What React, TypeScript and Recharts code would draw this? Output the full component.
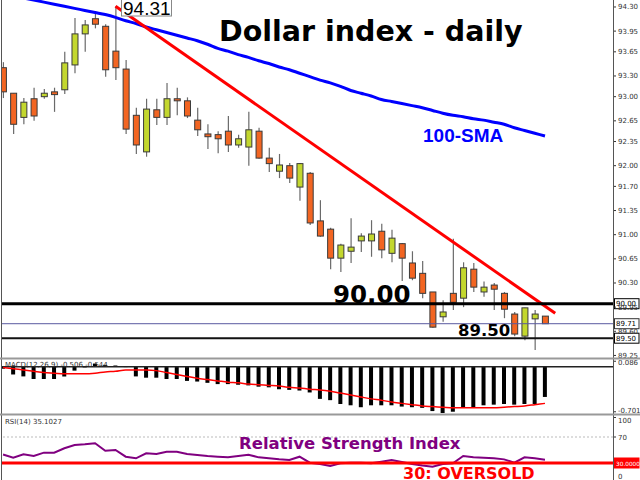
import React from "react";
import { ComposedChart, Bar, Line, XAxis, YAxis, ReferenceLine } from "recharts";

// daily candles, oldest first
const OPEN = [
  93.42, 93.05, 92.7, 92.97, 93.0, 93.07, 93.1, 93.46, 93.91, 94.13,
  94.02, 93.66, 93.4, 92.73, 92.2, 92.81, 92.7, 92.97, 92.94, 92.66,
  92.46, 92.45, 92.5, 92.3, 92.27, 92.5, 92.11, 91.92, 92.0, 91.69,
  91.89, 91.2, 91.08, 90.66, 90.76, 90.91, 90.91, 91.05, 90.73, 90.87,
  90.59, 90.44, 90.17, 89.81, 90.15, 90.08, 90.5, 90.17, 90.27, 90.15,
  89.85, 89.53, 89.78, 89.82,
];
const HIGH = [
  93.5, 93.05, 92.98, 93.13, 93.11, 93.13, 93.65, 94.14, 94.11, 94.21,
  94.05, 94.31, 93.53, 92.84, 92.97, 92.97, 93.2, 93.13, 92.99, 92.84,
  92.6, 92.5, 92.72, 92.45, 92.78, 92.55, 92.26, 92.17, 92.04, 92.04,
  91.91, 91.5, 91.1, 90.87, 91.24, 91.02, 91.21, 91.16, 91.07, 90.88,
  90.76, 90.62, 90.17, 90.05, 90.94, 90.6, 90.59, 90.32, 90.3, 90.17,
  89.88, 89.94, 89.91, 89.82,
];
const LOW = [
  92.98, 92.46, 92.6, 92.65, 92.97, 92.78, 93.04, 93.34, 93.65, 93.99,
  93.29, 93.24, 92.46, 92.17, 92.13, 92.59, 92.59, 92.73, 92.69, 92.43,
  92.24, 92.18, 92.2, 92.26, 92.0, 92.1, 91.91, 91.82, 91.75, 91.49,
  91.14, 90.97, 90.5, 90.46, 90.59, 90.75, 90.68, 90.66, 90.6, 90.33,
  90.34, 90.08, 89.65, 89.74, 89.91, 89.95, 90.17, 90.1, 89.91, 89.79,
  89.53, 89.47, 89.33, 89.71,
];
const CLOSE = [
  93.07, 92.6, 92.92, 92.72, 93.05, 93.03, 93.49, 93.91, 94.04, 94.05,
  93.39, 93.42, 92.53, 92.3, 92.82, 92.7, 92.97, 92.94, 92.72, 92.52,
  92.42, 92.39, 92.3, 92.39, 92.52, 92.11, 92.03, 92.01, 91.82, 92.03,
  91.17, 90.98, 90.66, 90.85, 90.82, 90.98, 91.01, 90.78, 90.95, 90.66,
  90.37, 90.15, 89.66, 89.88, 90.02, 90.52, 90.24, 90.24, 90.21, 89.92,
  89.56, 89.94, 89.85, 89.71,
];
const SMA100 = [
  94.49, 94.46, 94.43, 94.4, 94.37, 94.34, 94.31, 94.28, 94.25, 94.22,
  94.19, 94.15, 94.1, 94.06, 94.01, 93.97, 93.93, 93.89, 93.85, 93.81,
  93.76, 93.7, 93.66, 93.61, 93.57, 93.52, 93.48, 93.43, 93.39, 93.34,
  93.29, 93.24, 93.2, 93.15, 93.09, 93.05, 93.01, 92.96, 92.93, 92.9,
  92.87, 92.84, 92.8, 92.76, 92.73, 92.71, 92.68, 92.66, 92.63, 92.6,
  92.55, 92.51, 92.47, 92.43,
];
const MACD_HIST = [
  -0.03, -0.12, -0.15, -0.19, -0.19, -0.19, -0.15, -0.06, -0.01, 0.05,
  0.03, 0.02, -0.005, -0.15, -0.17, -0.17, -0.19, -0.19, -0.22, -0.23,
  -0.25, -0.27, -0.27, -0.28, -0.29, -0.31, -0.32, -0.35, -0.36, -0.37,
  -0.4, -0.5, -0.52, -0.58, -0.6, -0.63, -0.6, -0.6, -0.6, -0.62,
  -0.63, -0.64, -0.69, -0.72, -0.7, -0.64, -0.64, -0.6, -0.59, -0.58,
  -0.59, -0.58, -0.58, -0.47,
];
const MACD_SIGNAL = [
  -0.01, -0.03, -0.05, -0.07, -0.09, -0.1, -0.11, -0.11, -0.11, -0.1,
  -0.08, -0.07, -0.05, -0.05, -0.05, -0.06, -0.09, -0.12, -0.15, -0.18,
  -0.2, -0.22, -0.24, -0.25, -0.27, -0.28, -0.29, -0.3, -0.32, -0.33,
  -0.35, -0.36, -0.38, -0.41, -0.44, -0.47, -0.5, -0.52, -0.55, -0.57,
  -0.59, -0.61, -0.62, -0.63, -0.64, -0.64, -0.64, -0.64, -0.64, -0.63,
  -0.62, -0.61, -0.59, -0.57,
];
const RSI14 = [
  43, 38.2, 43.4, 40.8, 45.9, 45.9, 52.6, 57.7, 58.7, 60.3,
  48.9, 50, 39.7, 37.2, 44.9, 44, 47.4, 47.4, 43.8, 42.3,
  40.8, 39.7, 38.7, 40.8, 42.8, 38.7, 37.2, 35.7, 34.6, 39.7,
  30.5, 28.5, 25.4, 29.5, 30.5, 30.5, 29.5, 32, 34.6, 31.5,
  28.5, 26, 24.4, 28.5, 29.5, 40.8, 38.7, 38, 37.2, 35.6,
  30.5, 38.7, 37.2, 35.1,
];
// resistance line drawn from the 94.31 top
const TREND_FROM = { i: 12, price: 94.31 };
const TREND_TO = { i: 55, price: 89.86 };

const PRICE_TICKS = [
  94.3, 93.95, 93.65, 93.3, 93.0, 92.65, 92.35, 92.0, 91.7, 91.35, 91.0,
  90.65, 90.3, 89.95, 89.6, 89.25,
];
const MACD_TICKS = [0.086, -0.701];
const RSI_TICKS = [100, 70, 0];

const rows = OPEN.map((o, k) => ({
  i: k + 1,
  open: o,
  high: HIGH[k],
  low: LOW[k],
  close: CLOSE[k],
  sma: SMA100[k],
  hist: MACD_HIST[k],
  signal: MACD_SIGNAL[k],
  rsi: RSI14[k],
  trend: k + 1 === TREND_FROM.i ? TREND_FROM.price : null,
}));
rows.push({ i: TREND_TO.i, trend: TREND_TO.price } as any);

const X_DOMAIN = [0.9, 60.65];
const FONT = "DejaVu Sans";
const ORANGE = "#f26522";
const LIME = "#c3d72e";

function Candle(props: any) {
  const { x, y, width, height, payload } = props;
  if (!payload || payload.high == null) return null;
  const { open, close, high, low } = payload;
  const top = Math.min(y, y + height);
  const h = Math.abs(height);
  const span = high - low || 1;
  const py = (v: number) => top + ((high - v) / span) * h;
  const cx = x + width / 2;
  const b1 = py(Math.max(open, close));
  const b2 = py(Math.min(open, close));
  return (
    <g>
      <line x1={cx} x2={cx} y1={top} y2={top + h} stroke="#6a6a6a" strokeWidth={1.2} />
      <rect
        x={x + 0.5}
        y={b1}
        width={width - 1}
        height={Math.max(b2 - b1, 1.5)}
        fill={close >= open ? LIME : ORANGE}
        stroke="#3a3a3a"
        strokeWidth={1}
      />
    </g>
  );
}

function Tag({ viewBox, text, bg = "#fff", fg = "#000", border = "#000", size = 7 }: any) {
  if (!viewBox) return null;
  const x = viewBox.x + viewBox.width + 1.5;
  const y = viewBox.y;
  return (
    <g>
      <rect x={x} y={y - 5} width={24.5} height={10} fill={bg} stroke={border} strokeWidth={1} />
      <text x={x + 1.5} y={y + 2.5} fontSize={size} fill={fg} fontFamily={FONT}>
        {text}
      </text>
    </g>
  );
}

const tickStyle = { fontSize: 7, fill: "#333", fontFamily: FONT };

function shiftedTick(shift: (v: number) => number, fmt: (v: number) => string) {
  return (p: any) => (
    <text x={p.x} y={p.y + shift(p.payload.value)} fontSize={7} fill="#333" fontFamily={FONT}>
      {fmt(p.payload.value)}
    </text>
  );
}

export default function App() {
  return (
    <div
      style={{
        position: "fixed",
        left: 0,
        top: 0,
        width: 640,
        height: 480,
        background: "#fff",
        overflow: "hidden",
      }}
    >
      {/* price panel */}
      <div style={{ position: "absolute", left: 0, top: 0 }}>
        <ComposedChart width={640} height={358} data={rows} margin={{ top: 0, right: 0, bottom: 0, left: 2 }}>
          <XAxis type="number" dataKey="i" domain={X_DOMAIN} hide allowDataOverflow />
          <YAxis
            orientation="right"
            width={27}
            domain={[89.213, 94.401]}
            ticks={PRICE_TICKS}
            interval={0}
            allowDataOverflow
            axisLine={false}
            tickSize={3}
            tickMargin={2}
            tickLine={{ stroke: "#333" }}
            tick={tickStyle}
            tickFormatter={(v: number) => v.toFixed(2)}
          />
          <Bar
            dataKey={(d: any) => (d.high == null ? null : [d.low, d.high])}
            barSize={7}
            shape={<Candle />}
            isAnimationActive={false}
          />
          <Line dataKey="sma" type="monotone" stroke="#0000ff" strokeWidth={3} dot={false} isAnimationActive={false} />
          <Line dataKey="trend" stroke="#ff0000" strokeWidth={3} dot={false} connectNulls isAnimationActive={false} />
          <ReferenceLine y={90} stroke="#000" strokeWidth={3} label={<Tag text="90.00" />} />
          <ReferenceLine y={89.71} stroke="#5a5aa0" strokeWidth={1} label={<Tag text="89.71" border="#333" />} />
          <ReferenceLine y={89.5} stroke="#111" strokeWidth={2} label={<Tag text="89.50" />} />
        </ComposedChart>
      </div>

      {/* MACD panel */}
      <div style={{ position: "absolute", left: 0, top: 360 }}>
        <ComposedChart width={640} height={54} data={rows} margin={{ top: 1, right: 0, bottom: 1, left: 2 }}>
          <XAxis type="number" dataKey="i" domain={X_DOMAIN} hide allowDataOverflow />
          <YAxis
            orientation="right"
            width={27}
            domain={[-0.72, 0.09]}
            ticks={MACD_TICKS}
            interval={0}
            allowDataOverflow
            axisLine={false}
            tickSize={3}
            tickMargin={2}
            tickLine={{ stroke: "#333" }}
            tick={shiftedTick((v) => (v > 0 ? 4 : 1), (v) => v.toFixed(3))}
          />
          <ReferenceLine y={0} stroke="#222" strokeWidth={1.5} />
          <Bar dataKey="hist" barSize={4} fill="#000" isAnimationActive={false} />
          <Line dataKey="signal" type="monotone" stroke="#ff0000" strokeWidth={1.5} dot={false} isAnimationActive={false} />
        </ComposedChart>
      </div>

      {/* RSI panel */}
      <div style={{ position: "absolute", left: 0, top: 416 }}>
        <ComposedChart width={640} height={68} data={rows} margin={{ top: 1.5, right: 0, bottom: 1.5, left: 2 }}>
          <XAxis type="number" dataKey="i" domain={X_DOMAIN} hide allowDataOverflow />
          <YAxis
            orientation="right"
            width={27}
            domain={[0, 100]}
            ticks={RSI_TICKS}
            interval={0}
            axisLine={false}
            tickSize={3}
            tickMargin={2}
            tickLine={{ stroke: "#333" }}
            tick={shiftedTick((v) => (v === 100 ? 5 : v === 0 ? -4 : 2.5), (v) => String(v))}
          />
          <ReferenceLine y={70} stroke="#bbb" strokeDasharray="2 2" />
          <Line dataKey="rsi" stroke="#800080" strokeWidth={2} dot={false} isAnimationActive={false} />
          <ReferenceLine
            y={30}
            stroke="#ff0000"
            strokeWidth={3}
            label={<Tag text="30.0000" bg="#ff0000" fg="#fff" border="#ff0000" size={5.8} />}
          />
        </ComposedChart>
      </div>

      {/* frame and annotations */}
      <svg width={640} height={480} style={{ position: "absolute", left: 0, top: 0, pointerEvents: "none" }}>
        <line x1={1.5} x2={1.5} y1={0} y2={480} stroke="#555" strokeWidth={1} />
        <line x1={613.5} x2={613.5} y1={0} y2={480} stroke="#555" strokeWidth={1} />
        <line x1={0} x2={640} y1={358.5} y2={358.5} stroke="#999" strokeWidth={2} />
        <line x1={0} x2={640} y1={414.5} y2={414.5} stroke="#999" strokeWidth={2} />

        <rect x={121.5} y={-1} width={50} height={17} fill="#fff" stroke="#888" strokeWidth={1} />
        <text x={123} y={14.5} fontSize={19} fontFamily="Liberation Sans" fill="#000">
          94.31
        </text>

        <text x={219} y={41} fontSize={28.5} fontWeight="bold" fontFamily={FONT} fill="#000">
          Dollar index - daily
        </text>
        <text x={423} y={141.5} fontSize={19} fontWeight="bold" fontFamily="Liberation Sans" fill="#0000ff">
          100-SMA
        </text>
        <text x={333} y={303} fontSize={24.5} fontWeight="bold" fontFamily={FONT} fill="#000">
          90.00
        </text>
        <text x={458} y={336} fontSize={16.5} fontWeight="bold" fontFamily={FONT} fill="#000">
          89.50
        </text>

        <text x={5} y={367} fontSize={7} fontFamily={FONT} fill="#333">
          MACD(12,26,9) -0.506 -0.544
        </text>
        <text x={5} y={424} fontSize={7} fontFamily={FONT} fill="#333">
          RSI(14) 35.1027
        </text>
        <text x={239} y={449} fontSize={16.5} fontWeight="bold" fontFamily={FONT} fill="#800080">
          Relative Strength Index
        </text>
        <text x={403} y={479} fontSize={16} fontWeight="bold" fontFamily={FONT} fill="#ff0000">
          30: OVERSOLD
        </text>
      </svg>
    </div>
  );
}
